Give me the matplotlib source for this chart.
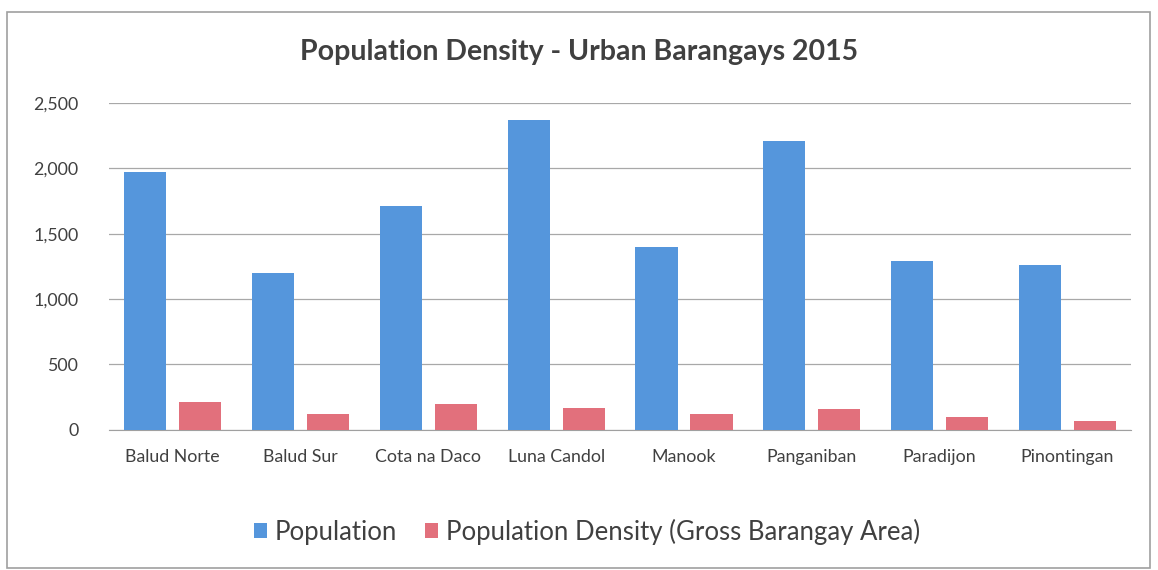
import matplotlib
matplotlib.use('Agg')
import matplotlib.pyplot as plt
import matplotlib.patches as mpatches
import numpy as np
from matplotlib.ticker import FuncFormatter

plt.rcParams['font.family'] = ['Lato', 'DejaVu Sans']

barangays = ['Balud Norte', 'Balud Sur', 'Cota na Daco', 'Luna Candol',
             'Manook', 'Panganiban', 'Paradijon', 'Pinontingan']
population = [1970, 1200, 1715, 2370, 1400, 2210, 1290, 1260]
density = [210, 122, 194, 163, 122, 160, 95, 68]

BLUE = '#5596dc'
RED = '#e2707c'
TEXT = '#404040'

fig = plt.figure(figsize=(11.58, 5.7), dpi=100)
ax = fig.add_axes([0.094, 0.246, 0.883, 0.573])

x = np.arange(len(barangays))
ax.bar(x - 0.215, population, width=0.33, color=BLUE, zorder=3, label='Population')
ax.bar(x + 0.215, density, width=0.33, color=RED, zorder=3,
       label='Population Density (Gross Barangay Area)')

ax.set_xlim(-0.5, len(barangays) - 0.5)
ax.set_ylim(0, 2500)
ax.set_yticks(np.arange(0, 2501, 500))
ax.yaxis.set_major_formatter(FuncFormatter(lambda v, p: f'{int(v):,}'))
ax.set_xticks(x)
ax.set_xticklabels(barangays)
ax.tick_params(axis='both', length=0, labelsize=12.8, colors=TEXT)
ax.tick_params(axis='x', pad=14)
ax.tick_params(axis='y', pad=22)
ax.grid(axis='y', color='#a8a8a8', linewidth=0.9, zorder=0)
for side in ['top', 'right', 'left']:
    ax.spines[side].set_visible(False)
ax.spines['bottom'].set_color('#a0a0a0')

fig.text(0.5, 0.908, 'Population Density - Urban Barangays 2015', ha='center', va='center',
         fontsize=20.5, fontweight='bold', color=TEXT)

fig.legend(loc='center', bbox_to_anchor=(0.507, 0.067), ncol=2, frameon=False,
           fontsize=18.5, handlelength=0.5, handleheight=0.5, handletextpad=0.3,
           columnspacing=1.1, labelcolor=TEXT)

# outer chart border
fig.patches.append(mpatches.Rectangle((0.006, 0.003), 0.987, 0.976, transform=fig.transFigure,
                                      fill=False, edgecolor='#a0a0a0', linewidth=1.2))

fig.savefig('out.png', dpi=100)
